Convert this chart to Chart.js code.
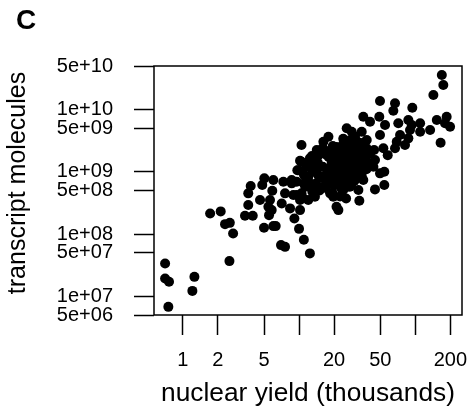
<!DOCTYPE html>
<html>
<head>
<meta charset="utf-8">
<script src="https://cdn.jsdelivr.net/npm/chart.js@4.4.1/dist/chart.umd.min.js"></script>
<style>
  html, body { margin: 0; padding: 0; background: #fff; }
  canvas { display: block; }
</style>
</head>
<body>
<canvas id="c" width="471" height="416"></canvas>
<script>
// nuclear yield (thousands)
const xValues = [
  0.705, 0.705, 0.762, 0.752, 1.26, 1.21, 2.52, 1.72, 2.12, 2.31, 2.54, 2.71, 3.43, 4.0, 5.0, 6.01, 6.3, 7.0, 7.58, 10,
  11.0, 12.4, 5.52, 5.82, 3.66, 3.66, 3.84, 4.62, 5.03, 4.83, 6.01, 5.89, 5.63, 5.45, 7.1, 7.33, 8.65, 9.55, 7.58, 8.93,
  8.37, 9.12, 10.2, 10.5, 10.2, 12.0, 13.7, 12.9, 9.86, 10.5, 12.4, 14.7, 13.7, 15.7, 17.9, 19.1, 19.7, 12.0, 17.9,
  169, 174, 143, 49.7, 66.9, 64.7, 94.2, 35.7, 40.8, 49, 54.9, 71.4, 87.1, 93.1, 110, 153, 186, 199, 180, 134,
  110, 90, 87.1, 73.9, 69.2, 81.5, 66.9, 57.9, 53.1, 49.7, 44.2, 45, 40.8, 49.7, 54.1, 54.1, 45, 34.6, 32.4, 33,
  25.4, 21.8, 165, 25.7, 28.4, 34.6, 38.2, 30.3, 17.9, 16.2, 10.5, 14.2, 12.9, 10.2, 9.67, 12.4, 8.65, 9.55, 11.3,
  40.8, 43.6, 35.7, 21, 16.2, 18.5, 24, 27.4, 29.3,
  16, 17, 18.5, 19, 20, 21, 22, 23, 24, 25, 26, 27, 28, 29, 30, 31, 32, 33, 34, 35, 36, 37, 38,
  16, 17.5, 19, 20.5, 22, 23.5, 25, 26.5, 27, 28.5, 30, 31.5, 33, 34.5,
  18, 20, 21.5, 23, 24.5, 26, 28, 30, 14.5, 15.5, 17, 19.5, 22.5, 13, 14, 12, 11,
  36, 38, 40, 27.5, 24, 22, 29, 31,
  17.5, 19.5, 20.5, 21.5, 22.5, 24, 24.5, 25.5, 26, 27, 28, 29, 30.5, 31.5, 32.5, 33.5, 34.5, 35.5, 36.5, 37.5,
  18.5, 21, 25.5, 29.5, 32, 19, 22, 26.5, 14.5, 13.5, 12.5, 11.5, 15, 13, 11, 10.8
];
// transcript molecules
const yValues = [
  3.37e7, 1.93e7, 1.71e7, 6.76e6, 2.05e7, 1.22e7, 3.67e7, 2.14e8, 2.31e8, 1.44e8, 1.51e8, 1.02e8, 1.96e8, 1.96e8, 1.26e8, 1.34e8, 1.34e8, 6.63e7, 6.22e7, 1.21e8,
  8.07e7, 4.88e7, 2.01e8, 2.42e8, 2.92e8, 4.5e8, 5.89e8, 3.51e8, 7.83e8, 6.11e8, 7.36e8, 4.95e8, 3.51e8, 2.74e8, 3.1e8, 6.9e8, 6.51e8, 6.9e8, 4.5e8, 4.22e8,
  2.58e8, 1.78e8, 2.42e8, 4.5e8, 3.51e8, 3.51e8, 3.96e8, 5.74e8, 1.06e9, 1.45e9, 1.64e9, 1.85e9, 1.06e9, 8.31e8, 1.06e9, 6.51e8, 3.96e8, 8.31e8, 1.74e9,
  3.59e10, 2.48e10, 1.71e10, 1.37e10, 1.26e10, 9.57e9, 1.07e10, 7.66e9, 6.37e9, 7.66e9, 5.64e9, 6.0e9, 6.78e9, 5.64e9, 6.0e9, 6.78e9, 7.66e9, 5.29e9, 6.0e9, 4.68e9,
  4.4e9, 4.68e9, 3.44e9, 3.89e9, 3.03e9, 2.69e9, 2.38e9, 1.85e9, 2.38e9, 3.89e9, 2.23e9, 1.54e9, 1.36e9, 9.43e8, 1.0e9, 6.11e8, 5.21e8, 8.53e8, 5.08e8, 3.42e8,
  3.73e8, 2.42e8, 2.92e9, 4.99e9, 4.4e9, 4.4e9, 3.24e9, 3.66e9, 3.66e9, 3.03e9, 2.69e9, 2.23e9, 1.79e9, 1.5e9, 1.06e9, 1.2e9, 7.36e8, 4.22e8, 5.74e8,
  1.97e9, 1.2e9, 7.36e8, 2.74e8, 5.74e8, 4.5e8, 5.1e8, 5.74e8, 7.4e8,
  2.4e9, 1.9e9, 2.2e9, 1.5e9, 1.8e9, 2.5e9, 2.0e9, 1.6e9, 2.8e9, 2.2e9, 1.7e9, 2.5e9, 2.0e9, 1.4e9, 2.6e9, 1.9e9, 3.0e9, 2.3e9, 1.6e9, 2.9e9, 2.1e9, 1.3e9, 2.4e9,
  1.2e9, 1.0e9, 1.25e9, 9e8, 1.2e9, 8e8, 1.1e9, 1.3e9, 9e8, 1.05e9, 1.2e9, 8.5e8, 1.1e9, 1.4e9,
  7e8, 6e8, 7.5e8, 5.5e8, 6.5e8, 7e8, 6e8, 7.2e8, 1.4e9, 8e8, 5.5e8, 4.5e8, 4.0e8, 1.0e9, 6.5e8, 7e8, 9e8,
  1.8e9, 1.1e9, 2e9, 3.2e9, 3.4e9, 1.45e9, 1.7e9, 1.45e9,
  2.1e9, 2.6e9, 1.3e9, 2.2e9, 1.1e9, 1.9e9, 1.25e9, 2.6e9, 1.5e9, 1.95e9, 1.25e9, 2.2e9, 1.6e9, 2.35e9, 1.3e9, 1.9e9, 2.55e9, 1.5e9, 2.5e9, 1.7e9,
  8.5e8, 1.05e9, 9e8, 9.5e8, 1.0e9, 6.5e8, 6.8e8, 5.8e8, 9e8, 1.25e9, 1.4e9, 1.2e9, 5e8, 4.8e8, 6.5e8, 3.8e8
];

const xTicks = [1, 2, 5, 10, 20, 50, 100, 200];
const xTickLabels = ['1', '2', '5', '', '20', '50', '', '200'];
const yTicks = [5e6, 1e7, 5e7, 1e8, 5e8, 1e9, 5e9, 1e10, 5e10];
const yTickLabels = ['5e+06', '1e+07', '5e+07', '1e+08', '5e+08', '1e+09', '5e+09', '1e+10', '5e+10'];

const xTitle = 'nuclear yield (thousands)';
const yTitle = 'transcript molecules';
const panelLabel = 'C';

const FONT = "'Liberation Sans', Arial, Helvetica, sans-serif";

const points = xValues.map((x, i) => ({ x: x, y: yValues[i] }));

const decorPlugin = {
  id: 'decor',
  afterDraw(chart) {
    const { ctx, chartArea: a } = chart;
    ctx.save();
    ctx.strokeStyle = '#000';
    ctx.lineWidth = 1.5;
    ctx.strokeRect(a.left, a.top, a.right - a.left, a.bottom - a.top);
    ctx.fillStyle = '#000';
    ctx.font = 'bold 28px ' + FONT;
    ctx.textBaseline = 'alphabetic';
    ctx.textAlign = 'left';
    ctx.fillText(panelLabel, 16, 29);
    // y axis title
    ctx.translate(25, 183);
    ctx.rotate(-Math.PI / 2);
    ctx.textAlign = 'center';
    ctx.font = '25px ' + FONT;
    ctx.fillText(yTitle, 0, 0);
    ctx.restore();
  }
};

new Chart(document.getElementById('c'), {
  type: 'scatter',
  data: {
    datasets: [{
      data: points,
      backgroundColor: '#000',
      borderColor: '#000',
      borderWidth: 0,
      pointRadius: 5,
      pointHoverRadius: 5
    }]
  },
  options: {
    responsive: false,
    animation: false,
    devicePixelRatio: 1,
    layout: { padding: { top: 66, right: 9, left: 0, bottom: 0 } },
    plugins: {
      legend: { display: false },
      tooltip: { enabled: false }
    },
    scales: {
      x: {
        type: 'logarithmic',
        position: 'bottom',
        min: 0.566,
        max: 252,
        afterBuildTicks: s => { s.ticks = xTicks.map(v => ({ value: v })); },
        afterFit: s => { s.height = 101; s.paddingLeft = 0; s.paddingRight = 0; },
        border: { display: false },
        grid: { drawOnChartArea: false, drawTicks: true, tickLength: 20, tickColor: '#000', tickWidth: 1.5 },
        ticks: {
          autoSkip: false, maxRotation: 0, minRotation: 0, color: '#000', padding: 13,
          font: { family: FONT, size: 20 },
          callback: (v, i) => xTickLabels[i]
        },
        title: { display: true, text: xTitle, color: '#000', font: { family: FONT, size: 26.3 }, padding: { top: 0, bottom: 6 } }
      },
      y: {
        type: 'logarithmic',
        position: 'left',
        min: 5e6,
        max: 5e10,
        afterBuildTicks: s => { s.ticks = yTicks.map(v => ({ value: v })); },
        afterFit: s => { s.width = 154; s.paddingTop = 0; s.paddingBottom = 0; },
        border: { display: false },
        grid: { drawOnChartArea: false, drawTicks: true, tickLength: 20, tickColor: '#000', tickWidth: 1.5 },
        ticks: {
          autoSkip: false, color: '#000', padding: 21,
          font: { family: FONT, size: 20 },
          callback: (v, i) => yTickLabels[i]
        },
        title: { display: false, text: yTitle }
      }
    }
  },
  plugins: [decorPlugin]
});
</script>
</body>
</html>
